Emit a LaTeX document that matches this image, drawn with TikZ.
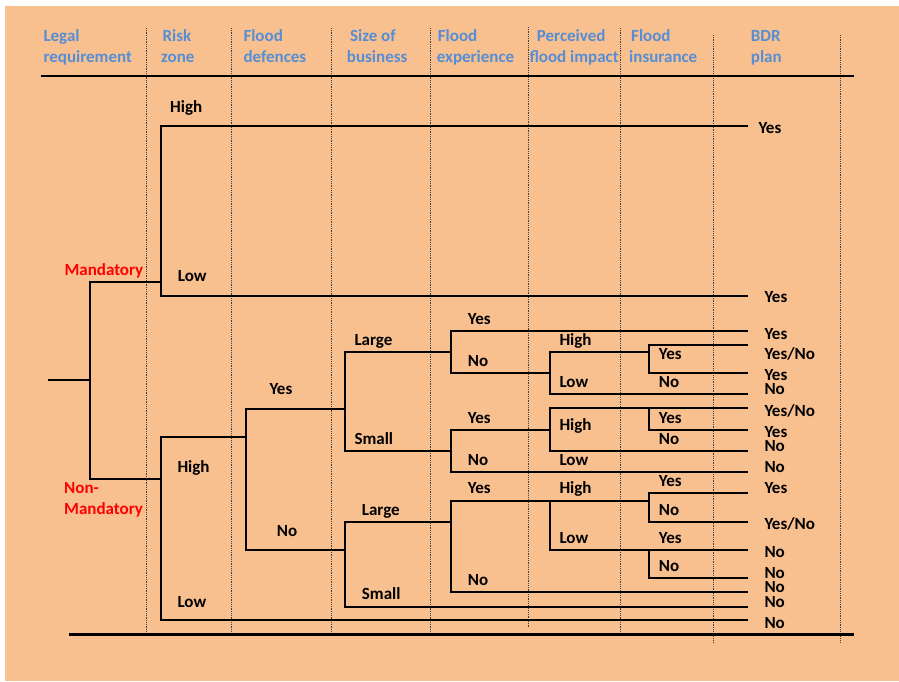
\documentclass[tikz,border=0pt]{standalone}
\usepackage{fontspec}
\setmainfont{Carlito}
\definecolor{peach}{RGB}{249,192,143}
\definecolor{hdrblue}{RGB}{85,142,213}
\definecolor{optred}{RGB}{255,0,0}
\begin{document}
\begin{tikzpicture}[x=1pt,y=-1pt,
  branch/.style={draw=black,line width=1.4pt},
  rule/.style={draw=black,line width=2.2pt},
  guide/.style={draw=black!75,line width=0.9pt,dash pattern=on 0.9pt off 0.9pt},
  txt/.style={anchor=base west,inner sep=0pt,font=\fontsize{17}{20}\selectfont\bfseries},
  hdr/.style={txt,text=hdrblue},
  lbl/.style={txt,text=black},
  opt/.style={txt,text=optred},
  outcome/.style={txt,text=black}]
\useasboundingbox (0,0) rectangle (899,681);
\fill[white] (0,0) rectangle (899,681);
\fill[peach] (5,6) rectangle (899,681);

% column guides
\foreach \gx/\gt/\gb in {146.7/28/633,231.7/28/633,331/28/633,430/28/633,
                         528.7/27/627,620.7/28/633,713/35/642,840/35/642}
  \draw[guide] (\gx,\gt) -- (\gx,\gb);

% header and footer rules
\coordinate (topL) at (40.7,76);  \coordinate (topR) at (854,76);
\coordinate (botL) at (69,634.5); \coordinate (botR) at (854,634.5);
\draw[rule] (topL) -- (topR);
\draw[rule] (botL) -- (botR);

% column headings
\node[hdr] (h1a) at (43.3,41.5) {Legal};
\node[hdr] (h1b) at (43.3,62.5) {requirement};
\node[hdr] (h2a) at (162.3,41.5) {Risk};
\node[hdr] (h2b) at (161,62.5) {zone};
\node[hdr] (h3a) at (243.3,41.5) {Flood};
\node[hdr] (h3b) at (243.3,62.5) {defences};
\node[hdr] (h4a) at (350,41.5) {Size of};
\node[hdr] (h4b) at (346.7,62.5) {business};
\node[hdr] (h5a) at (437.7,41.5) {Flood};
\node[hdr] (h5b) at (436.7,62.5) {experience};
\node[hdr] (h6a) at (536.7,41.5) {Perceived};
\node[hdr] (h6b) at (529.3,62.5) {flood impact};
\node[hdr] (h7a) at (631,41.5) {Flood};
\node[hdr] (h7b) at (629,62.5) {insurance};
\node[hdr] (h8a) at (750.7,41.5) {BDR};
\node[hdr] (h8b) at (750.7,62.5) {plan};

% branch points
\coordinate (root) at (48,380);
\coordinate (J) at (90,380);
\coordinate (M) at (161,282);
\coordinate (N) at (161,479);
\coordinate (NH) at (246,437);
\coordinate (DY) at (345,409);
\coordinate (DN) at (345,550);
\coordinate (YL) at (451,352);
\coordinate (YS) at (451,451);
\coordinate (YLN) at (550,373);
\coordinate (YLNH) at (649,352);
\coordinate (YSY) at (550,430);
\coordinate (YSYH) at (649,408);
\coordinate (NL) at (451,522);
\coordinate (NLY) at (550,501);
\coordinate (NLYH) at (649,501);
\coordinate (NLYL) at (649,550);

% leaf ends
\coordinate (e1) at (748,126);
\coordinate (e2) at (748,296);
\coordinate (e3) at (748,331);
\coordinate (e4) at (748,345);
\coordinate (e5) at (748,373);
\coordinate (e6) at (748,394);
\coordinate (e7) at (748,408);
\coordinate (e8) at (748,430);
\coordinate (e9) at (748,451);
\coordinate (e10) at (748,472);
\coordinate (e11) at (748,493);
\coordinate (e12) at (748,522);
\coordinate (e13) at (748,550);
\coordinate (e14) at (748,578);
\coordinate (e15) at (748,592);
\coordinate (e16) at (748,607);
\coordinate (e17) at (748,620);

% the tree
\draw[branch] (root) -- (J);
\draw[branch] (J) |- (M);
\draw[branch] (J) |- (N);
\draw[branch] (M) |- (e1);
\draw[branch] (M) |- (e2);
\draw[branch] (N) |- (NH);
\draw[branch] (N) |- (e17);
\draw[branch] (NH) |- (DY);
\draw[branch] (NH) |- (DN);
\draw[branch] (DY) |- (YL);
\draw[branch] (DY) |- (YS);
\draw[branch] (YL) |- (e3);
\draw[branch] (YL) |- (YLN);
\draw[branch] (YLN) |- (YLNH);
\draw[branch] (YLN) |- (e6);
\draw[branch] (YLNH) |- (e4);
\draw[branch] (YLNH) |- (e5);
\draw[branch] (YS) |- (YSY);
\draw[branch] (YS) |- (e10);
\draw[branch] (YSY) |- (YSYH);
\draw[branch] (YSY) |- (e9);
\draw[branch] (YSYH) -- (e7);
\draw[branch] (YSYH) |- (e8);
\draw[branch] (DN) |- (NL);
\draw[branch] (DN) |- (e16);
\draw[branch] (NL) |- (NLY);
\draw[branch] (NL) |- (e15);
\draw[branch] (NLY) -- (NLYH);
\draw[branch] (NLY) |- (NLYL);
\draw[branch] (NLYH) |- (e11);
\draw[branch] (NLYH) |- (e12);
\draw[branch] (NLYL) -- (e13);
\draw[branch] (NLYL) |- (e14);

% legal requirement
\node[opt] (mand) at (64.3,275) {Mandatory};
\node[opt] (non1) at (64,493.4) {Non-};
\node[opt] (non2) at (64,514.4) {Mandatory};

% risk zone
\node[lbl] (rz1) at (170,112.3) {High};
\node[lbl] (rz2) at (177.7,281.4) {Low};
\node[lbl] (rz3) at (177.3,472.4) {High};
\node[lbl] (rz4) at (177.3,607.4) {Low};

% flood defences
\node[lbl] (fd1) at (269.3,394) {Yes};
\node[lbl] (fd2) at (276.7,536.3) {No};

% size of business
\node[lbl] (sb1) at (354.3,345.7) {Large};
\node[lbl] (sb2) at (354.3,444.3) {Small};
\node[lbl] (sb3) at (361.7,515.7) {Large};
\node[lbl] (sb4) at (361.7,599.3) {Small};

% flood experience
\node[lbl] (fe1) at (467.7,324.3) {Yes};
\node[lbl] (fe2) at (467.7,366.7) {No};
\node[lbl] (fe3) at (467.7,423.3) {Yes};
\node[lbl] (fe4) at (467.7,465.7) {No};
\node[lbl] (fe5) at (467.7,493.3) {Yes};
\node[lbl] (fe6) at (467.7,585.7) {No};

% perceived flood impact
\node[lbl] (pi1) at (559.3,345.7) {High};
\node[lbl] (pi2) at (559.3,387.3) {Low};
\node[lbl] (pi3) at (559.3,430.7) {High};
\node[lbl] (pi4) at (559.3,465.7) {Low};
\node[lbl] (pi5) at (559.3,493.3) {High};
\node[lbl] (pi6) at (559.3,543.3) {Low};

% flood insurance
\node[lbl] (fi1) at (658.7,359) {Yes};
\node[lbl] (fi2) at (658.7,387.3) {No};
\node[lbl] (fi3) at (658.7,423.3) {Yes};
\node[lbl] (fi4) at (658.7,444.7) {No};
\node[lbl] (fi5) at (658.7,486.3) {Yes};
\node[lbl] (fi6) at (658.7,515.7) {No};
\node[lbl] (fi7) at (658.7,543.3) {Yes};
\node[lbl] (fi8) at (658.7,571.7) {No};

% BDR plan outcomes
\node[outcome] (o1) at (758.3,133.3) {Yes};
\node[outcome] (o2) at (764.3,302.3) {Yes};
\node[outcome] (o3) at (764.3,339) {Yes};
\node[outcome] (o4) at (764.3,359.3) {Yes/No};
\node[outcome] (o5) at (764.3,380.3) {Yes};
\node[outcome] (o6) at (764.3,394.7) {No};
\node[outcome] (o7) at (764.3,416) {Yes/No};
\node[outcome] (o8) at (764.3,437.3) {Yes};
\node[outcome] (o9) at (764.3,451.3) {No};
\node[outcome] (o10) at (764.3,472) {No};
\node[outcome] (o11) at (764.3,493.3) {Yes};
\node[outcome] (o12) at (764.3,529.7) {Yes/No};
\node[outcome] (o13) at (764.3,557.3) {No};
\node[outcome] (o14) at (764.3,578.3) {No};
\node[outcome] (o15) at (764.3,592.3) {No};
\node[outcome] (o16) at (764.3,607.3) {No};
\node[outcome] (o17) at (764.3,628.7) {No};
\end{tikzpicture}
\end{document}
